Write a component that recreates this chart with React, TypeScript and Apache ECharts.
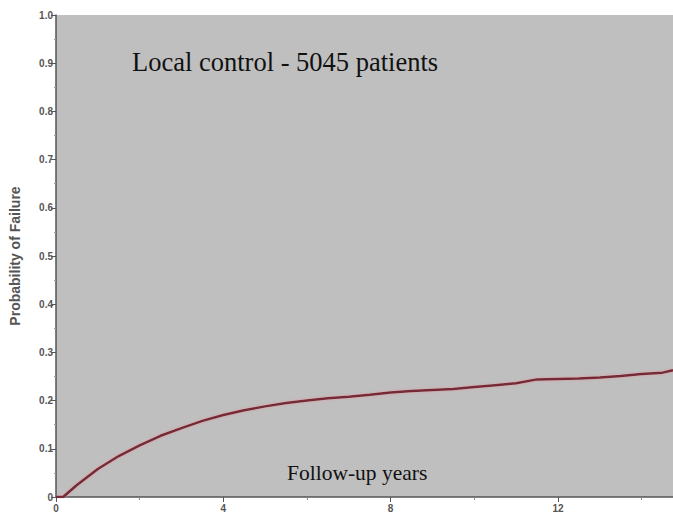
import React, { useEffect, useRef } from "react";
import * as echarts from "echarts";

const years = [0, 0.17, 0.5, 1.0, 1.5, 2.0, 2.5, 3.0, 3.5, 4.0, 4.5, 5.0, 5.5, 6.0, 6.5, 7.0, 7.5, 8.0, 8.5, 9.0, 9.5, 10.0, 10.5, 11.0, 11.5, 12.0, 12.5, 13.0, 13.5, 14.0, 14.5, 14.75];
const failure = [0, 0, 0.025, 0.058, 0.085, 0.107, 0.127, 0.143, 0.158, 0.17, 0.18, 0.188, 0.195, 0.2, 0.205, 0.208, 0.212, 0.217, 0.22, 0.222, 0.224, 0.228, 0.232, 0.236, 0.244, 0.245, 0.246, 0.248, 0.251, 0.255, 0.258, 0.263];

const chartTitle = "Local control - 5045 patients";
const xTitle = "Follow-up years";
const yTitle = "Probability of Failure";

export default function App() {
  const ref = useRef<HTMLDivElement>(null);
  useEffect(() => {
    if (!ref.current) return;
    const chart = echarts.init(ref.current, undefined, { renderer: "svg" });
    const labelStyle = { color: "#555", fontSize: 10, fontWeight: "bold" as const, fontFamily: "Liberation Sans, Arial, sans-serif" };
    chart.setOption({
      animation: false,
      backgroundColor: "#ffffff",
      grid: { left: 55, top: 15, right: 0, bottom: 18, show: true, backgroundColor: "#bfbfbf", borderWidth: 0 },
      xAxis: {
        type: "value",
        min: 0,
        max: 14.75,
        interval: 4,
        axisLine: { show: true, onZero: false, lineStyle: { color: "#555", width: 1.5 } },
        axisTick: { show: true, length: 5, lineStyle: { color: "#555" } },
        minorTick: { show: true, splitNumber: 2, length: 3, lineStyle: { color: "#888" } },
        splitLine: { show: false },
        axisLabel: { ...labelStyle, margin: 6, showMaxLabel: false },
      },
      yAxis: {
        type: "value",
        min: 0,
        max: 1,
        interval: 0.1,
        name: yTitle,
        nameLocation: "middle",
        nameGap: 34,
        nameTextStyle: { color: "#555", fontSize: 14, fontWeight: "bold", fontFamily: "Liberation Sans, Arial, sans-serif" },
        axisLine: { show: true, lineStyle: { color: "#555", width: 1.5 } },
        axisTick: { show: true, length: 5, lineStyle: { color: "#555" } },
        minorTick: { show: true, splitNumber: 2, length: 2, lineStyle: { color: "#999" } },
        splitLine: { show: false },
        axisLabel: { ...labelStyle, margin: 3, formatter: (v: number) => (v === 0 ? "0" : v.toFixed(1)) },
      },
      series: [
        {
          type: "line",
          data: years.map((x, i) => [x, failure[i]]),
          showSymbol: false,
          symbol: "none",
          smooth: false,
          lineStyle: { color: "#742a35", width: 2.5, shadowColor: "rgba(230,140,150,0.7)", shadowBlur: 3 },
        },
      ],
      graphic: [
        {
          type: "text",
          left: 132,
          top: 48,
          style: { text: chartTitle, fontSize: 26.5, fontFamily: "Liberation Serif, Times New Roman, serif", fill: "#111" },
        },
        {
          type: "text",
          left: 287,
          top: 462,
          style: { text: xTitle, fontSize: 21.5, fontFamily: "Liberation Serif, Times New Roman, serif", fill: "#111" },
        },
      ],
    });
    return () => chart.dispose();
  }, []);
  return <div ref={ref} style={{ position: "fixed", left: 0, top: 0, width: 673, height: 515 }} />;
}
